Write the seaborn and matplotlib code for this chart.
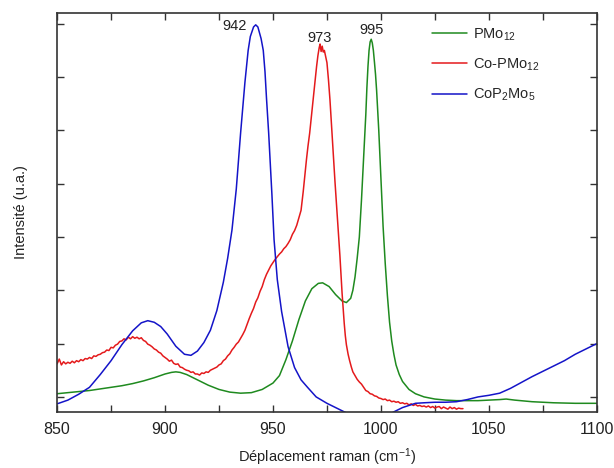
import matplotlib
matplotlib.use("Agg")
import matplotlib.pyplot as plt
import seaborn as sns
import pandas as pd
from matplotlib.ticker import MultipleLocator, NullFormatter

# PMo12 (vert)
x_pmo = [850, 855, 860, 865, 870, 875, 880, 885, 890, 895, 900, 903, 905, 907, 910, 915, 920,
         925, 930, 935, 940, 945, 950, 953, 956, 959, 962, 965, 968, 971, 973, 976,
         979, 982, 984, 986, 987, 988, 989, 990, 991, 992, 993, 993.5, 994, 994.5, 995,
         995.5, 996, 996.5, 997, 997.5, 998, 999, 1000, 1001, 1002, 1003, 1004, 1005,
         1006, 1007, 1008.5, 1010, 1013, 1016, 1020, 1025, 1030, 1035, 1040, 1045,
         1050, 1055, 1058, 1062, 1070, 1080, 1090, 1100]
y_pmo = [0.06, 0.08, 0.10, 0.12, 0.15, 0.18, 0.21, 0.25, 0.30, 0.36, 0.43, 0.46, 0.47, 0.46, 0.42,
         0.32, 0.22, 0.14, 0.09, 0.07, 0.08, 0.14, 0.26, 0.40, 0.70, 1.05, 1.45, 1.80, 2.03, 2.13,
         2.14, 2.07, 1.92, 1.80, 1.77, 1.85, 2.00, 2.25, 2.60, 3.00, 3.70, 4.50, 5.30, 5.80, 6.20,
         6.50, 6.66, 6.71, 6.64, 6.50, 6.28, 6.05, 5.75, 5.00, 4.10, 3.20, 2.50, 1.90, 1.40, 1.05,
         0.80, 0.60, 0.42, 0.29, 0.14, 0.06, 0.00, -0.04, -0.06, -0.07, -0.07, -0.07,
         -0.06, -0.05, -0.04, -0.06, -0.09, -0.11, -0.12, -0.12]

# Co-PMo12 (rouge, bruité)
x_copmo = list(range(850, 964)) + [
    964, 964.7, 965.5, 966.2, 967, 968, 969.4, 970.2, 970.8, 971.4, 971.8, 972.3, 972.8,
    973.3, 973.8, 974.4, 975, 975.7, 976.4, 977.1, 977.8, 978.7, 979.6, 980.3, 981, 981.5,
    982, 982.5, 983, 983.5, 984, 984.8, 985.5, 986.3, 987, 988, 989, 990, 991, 992, 993,
    994, 995, 996, 997, 998, 999] + list(range(1000, 1039))
y_copmo = [
    # 850 - 899
    0.62, 0.71, 0.60, 0.66, 0.62, 0.65, 0.63, 0.67, 0.64, 0.68,
    0.66, 0.70, 0.68, 0.72, 0.71, 0.74, 0.72, 0.77, 0.76, 0.79,
    0.80, 0.83, 0.84, 0.88, 0.87, 0.93, 0.92, 0.97, 0.99, 1.04,
    1.05, 1.09, 1.07, 1.12, 1.09, 1.13, 1.10, 1.12, 1.09, 1.11,
    1.06, 1.04, 0.99, 0.97, 0.94, 0.90, 0.88, 0.84, 0.82, 0.77,
    # 900 - 949
    0.74, 0.71, 0.67, 0.69, 0.63, 0.61, 0.62, 0.56, 0.55, 0.52,
    0.50, 0.49, 0.46, 0.47, 0.43, 0.43, 0.41, 0.45, 0.44, 0.47,
    0.46, 0.50, 0.52, 0.54, 0.56, 0.60, 0.62, 0.68, 0.71, 0.77,
    0.81, 0.88, 0.93, 0.99, 1.03, 1.10, 1.17, 1.25, 1.36, 1.47,
    1.57, 1.66, 1.78, 1.86, 1.98, 2.07, 2.20, 2.30, 2.38, 2.46,
    # 950 - 963
    2.52, 2.58, 2.63, 2.68, 2.72, 2.78, 2.82, 2.88, 2.95, 3.05,
    3.12, 3.22, 3.36, 3.50,
    # pic 973
    3.85, 4.13, 4.45, 4.70, 4.95, 5.35, 5.89, 6.20, 6.40, 6.55, 6.62, 6.48, 6.58,
    6.47, 6.50, 6.38, 6.27, 5.95, 5.57, 5.10, 4.63, 4.05, 3.50, 3.05, 2.65, 2.30,
    1.95, 1.65, 1.38, 1.15, 0.98, 0.80, 0.68, 0.56, 0.47, 0.40, 0.33, 0.28, 0.24, 0.18, 0.12,
    0.10, 0.06, 0.05, 0.02, 0.01, -0.02,
    # 1000 - 1038
    -0.03, -0.05, -0.04, -0.07, -0.06, -0.09, -0.08, -0.10, -0.09, -0.12,
    -0.11, -0.13, -0.12, -0.15, -0.13, -0.16, -0.14, -0.17, -0.16, -0.18,
    -0.17, -0.19, -0.17, -0.20, -0.18, -0.21, -0.19, -0.18, -0.22, -0.19,
    -0.21, -0.23, -0.19, -0.22, -0.20, -0.23, -0.21, -0.22, -0.22]

# CoP2Mo5 (bleu)
x_cop = [850, 855, 860, 865, 870, 875, 880, 885, 889, 892, 895, 898, 901, 905, 909,
         912, 915, 918, 921, 924, 927, 929, 931, 933, 935, 937, 938.5, 939.5, 941, 942, 943,
         944.5, 945.5, 946.3, 947, 948, 949.5, 950.5, 952, 954, 957, 960, 963, 966, 970, 975,
         980, 983, 988, 995, 1000, 1004, 1006, 1010, 1016, 1020, 1025, 1030, 1035, 1040,
         1045, 1050, 1055, 1060, 1065, 1070, 1075, 1080, 1085, 1090, 1095, 1100]
y_cop = [-0.13, -0.06, 0.05, 0.18, 0.42, 0.68, 0.98, 1.24, 1.39, 1.43, 1.40, 1.32, 1.18, 0.95, 0.80,
         0.78, 0.86, 1.02, 1.25, 1.62, 2.15, 2.60, 3.13, 3.90, 4.95, 5.90, 6.50, 6.76, 6.94, 6.98, 6.94,
         6.72, 6.50, 6.10, 5.60, 4.95, 3.80, 2.95, 2.20, 1.60, 0.94, 0.55, 0.32, 0.18, 0.00, -0.12,
         -0.22, -0.28, -0.38, -0.45, -0.42, -0.33, -0.28, -0.20, -0.12, -0.11, -0.10, -0.10, -0.09, -0.05,
         0.00, 0.03, 0.07, 0.16, 0.27, 0.38, 0.48, 0.58, 0.68, 0.80, 0.90, 1.00]

series = [
    (x_pmo, y_pmo, "PMo$_{12}$", "#1f8a1f"),
    (x_copmo, y_copmo, "Co-PMo$_{12}$", "#e41a1c"),
    (x_cop, y_cop, "CoP$_{2}$Mo$_{5}$", "#1414c8"),
]

pics = [942, 973, 995]
pics_pos = [(932, 6.96), (971.8, 6.74), (995.8, 6.88)]

sns.set_style("ticks")
plt.rcParams["font.family"] = ["Liberation Sans", "DejaVu Sans"]
plt.rcParams["mathtext.fontset"] = "custom"
plt.rcParams["mathtext.rm"] = "Liberation Sans"
plt.rcParams["mathtext.it"] = "Liberation Sans"

fig = plt.figure(figsize=(6.14, 4.68), dpi=100)
ax = fig.add_axes([0.093, 0.12, 0.879, 0.852])

for xs, ys, lab, col in series:
    d = pd.DataFrame({"x": xs, "y": ys})
    sns.lineplot(data=d, x="x", y="y", color=col, label=lab, lw=1.1, ax=ax, sort=False)

for p, (tx, ty) in zip(pics, pics_pos):
    ax.text(tx, ty, str(p), ha="center", va="center", fontsize=10.5, color="#222222")

ax.set_xlim(850, 1100)
ax.set_ylim(-0.28, 7.2)
ax.xaxis.set_major_locator(MultipleLocator(50))
ax.xaxis.set_minor_locator(MultipleLocator(25))
ax.yaxis.set_major_locator(MultipleLocator(1))
ax.yaxis.set_major_formatter(NullFormatter())
ax.tick_params(which="both", direction="in", top=True, right=True, length=5, width=1,
               color="#333333", labelsize=11.5, labelcolor="#222222", pad=7)
for s in ax.spines.values():
    s.set_color("#333333")
    s.set_linewidth(1.2)

ax.set_xlabel("Déplacement raman (cm$^{-1}$)", fontsize=10.5, color="#222222", labelpad=7)
ax.set_ylabel("Intensité (u.a.)", fontsize=10.5, color="#222222", labelpad=14)

leg = ax.legend(loc="upper left", bbox_to_anchor=(0.67, 1.0), frameon=False, fontsize=10.5,
                handlelength=2.4, handletextpad=0.4, labelspacing=0.95)

fig.savefig("out.png", dpi=100)
